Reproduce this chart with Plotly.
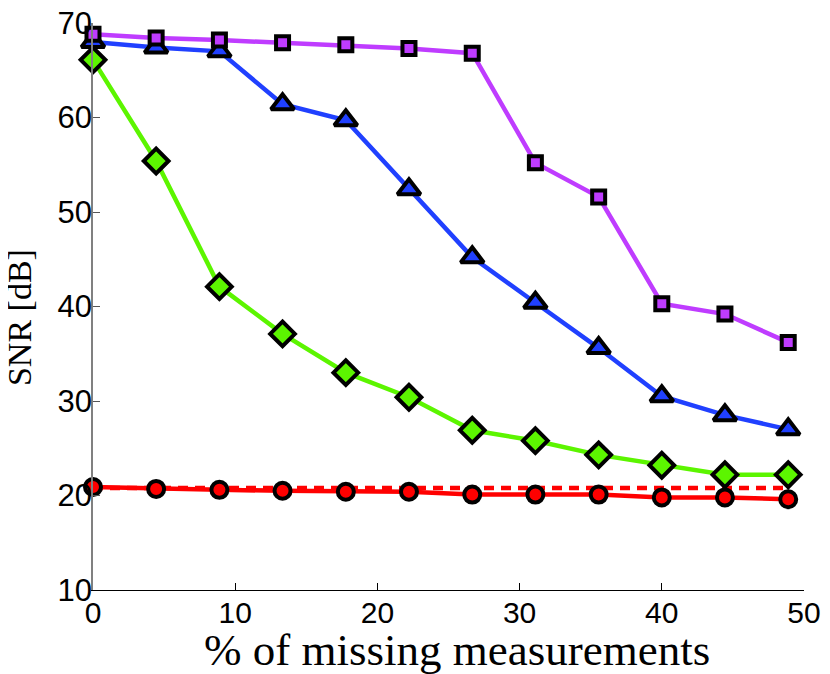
import plotly.graph_objects as go

x_vals = [0, 4.44, 8.89, 13.33, 17.78, 22.22, 26.67, 31.11, 35.56, 40.0, 44.44, 48.89]
purple_sq = [68.8, 68.4, 68.2, 67.9, 67.7, 67.3, 66.8, 55.2, 51.6, 40.3, 39.2, 36.2]
blue_tri = [68.0, 67.4, 67.0, 61.4, 59.7, 52.4, 45.2, 40.4, 35.6, 30.5, 28.5, 27.0]
green_dia = [66.1, 55.4, 42.1, 37.1, 33.0, 30.4, 26.9, 25.8, 24.3, 23.2, 22.2, 22.2]
red_circ = [20.9, 20.7, 20.6, 20.5, 20.4, 20.4, 20.1, 20.1, 20.1, 19.8, 19.8, 19.6]
red_dash = [20.8] * len(x_vals)

x_ticks = [0, 10, 20, 30, 40, 50]
y_ticks = [10, 20, 30, 40, 50, 60, 70]

fig = go.Figure()

fig.add_trace(go.Scatter(x=x_vals, y=red_dash, mode="lines",
                         line=dict(color="#ff0000", width=4.5, dash="10px,7px"),
                         cliponaxis=False, showlegend=False))

series = [
    (red_circ, "#ff0000", "circle", 16),
    (green_dia, "#5cf500", "diamond", 19),
    (blue_tri, "#2040ff", "triangle-up", 20),
    (purple_sq, "#bf3cff", "square", 13),
]
for ys, col, sym, sz in series:
    fig.add_trace(go.Scatter(
        x=x_vals, y=ys, mode="lines+markers",
        line=dict(color=col, width=4.5),
        marker=dict(symbol=sym, size=sz, color=col,
                    line=dict(color="black", width=4)),
        cliponaxis=False, showlegend=False))

fig.update_layout(
    width=822, height=666,
    margin=dict(l=85, r=26, t=15, b=84),
    paper_bgcolor="white", plot_bgcolor="white",
    xaxis=dict(range=[0, 50], tickvals=x_ticks, ticks="inside", ticklen=7,
               tickcolor="black", showline=True, linecolor="black", linewidth=1,
               showgrid=False, zeroline=False, automargin=False,
               ticklabelstandoff=-4, ticklabeloverflow="allow",
               tickfont=dict(family="Liberation Sans, Arial", size=30, color="black")),
    yaxis=dict(range=[10, 70], tickvals=y_ticks, ticks="inside", ticklen=7,
               tickcolor="#555555", showline=True, linecolor="#808080", linewidth=1.5,
               showgrid=False, zeroline=False, automargin=False,
               ticklabelstandoff=-7, ticklabeloverflow="allow",
               tickfont=dict(family="Liberation Sans, Arial", size=31, color="black")),
    annotations=[
        dict(text="% of missing measurements", xref="paper", yref="paper",
             x=0.512, y=-0.106, xanchor="center", yanchor="middle", showarrow=False,
             font=dict(family="Liberation Serif, serif", size=45, color="black")),
        dict(text="SNR [dB]", xref="paper", yref="paper", textangle=-90,
             x=-0.103, y=0.481, xanchor="center", yanchor="middle", showarrow=False,
             font=dict(family="Liberation Serif, serif", size=34, color="black")),
    ],
)

fig.write_html("out.html")
